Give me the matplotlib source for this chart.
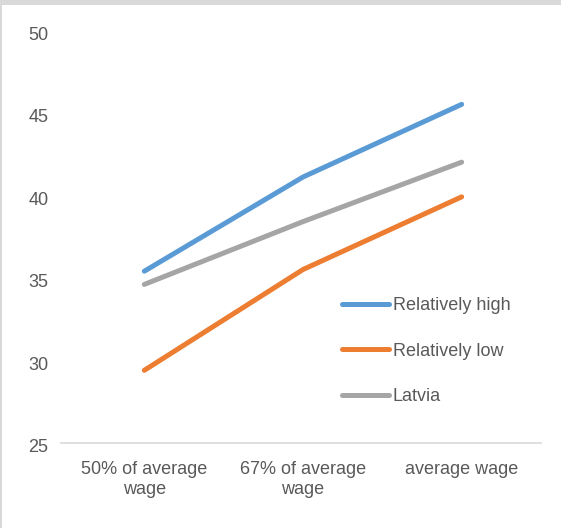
import matplotlib
matplotlib.use("Agg")
import matplotlib.pyplot as plt
from matplotlib.patches import Rectangle
from matplotlib.transforms import ScaledTranslation

# ---------------------------------------------------------------------------
# Data
# ---------------------------------------------------------------------------
categories = ["50% of average\nwage", "67% of average\nwage", "average wage"]
series_names = ["Relatively high", "Relatively low", "Latvia"]
relatively_high = [35.4, 41.1, 45.5]
relatively_low = [29.4, 35.5, 39.9]
latvia = [34.6, 38.4, 42.0]
y_ticks = [25, 30, 35, 40, 45, 50]

colors = ["#5B9BD5", "#ED7D31", "#A5A5A5"]
text_color = "#595959"
grid_color = "#D9D9D9"

W, H = 561, 528
plt.rcParams["font.family"] = ["Liberation Sans", "DejaVu Sans"]

fig = plt.figure(figsize=(W / 100, H / 100), dpi=100)
ax = fig.add_axes([61 / W, 85 / H, 480 / W, 413 / H])

x = list(range(len(categories)))
for vals, name, col in zip([relatively_high, relatively_low, latvia], series_names, colors):
    ax.plot(x, vals, color=col, lw=3.6, solid_capstyle="round", label=name)

ax.set_xlim(-0.525, len(categories) - 0.5)
ax.set_ylim(25, 50)
ax.set_yticks(y_ticks)
ax.set_xticks(x)
ax.set_xticklabels(categories, fontsize=13, color=text_color, linespacing=1.2)
ax.set_yticklabels([str(v) for v in y_ticks], fontsize=13, color=text_color)
ax.tick_params(axis="both", length=0)
ax.tick_params(axis="x", pad=13)
ax.tick_params(axis="y", pad=9)

# nudge y labels slightly down, as in the reference
shift = ScaledTranslation(0, -3 / 100, fig.dpi_scale_trans)
for lab in ax.get_yticklabels():
    lab.set_transform(lab.get_transform() + shift)

for side in ("top", "right", "left"):
    ax.spines[side].set_visible(False)
ax.spines["bottom"].set_color(grid_color)
ax.spines["bottom"].set_linewidth(1.2)

ax.legend(loc="center left", bbox_to_anchor=(342 / W, 1 - 351 / H),
          bbox_transform=fig.transFigure, frameon=False, fontsize=13,
          handlelength=2.6, handletextpad=0.2, labelspacing=1.58,
          borderpad=0, borderaxespad=0, labelcolor=text_color)

# light grey frame on top and left edges
fig.add_artist(Rectangle((0, 1 - 4.5 / H), 1, 4.5 / H, transform=fig.transFigure,
                         color=grid_color, lw=0))
fig.add_artist(Rectangle((0, 0), 2 / W, 1, transform=fig.transFigure,
                         color=grid_color, lw=0))

fig.savefig("out.png", dpi=100)
